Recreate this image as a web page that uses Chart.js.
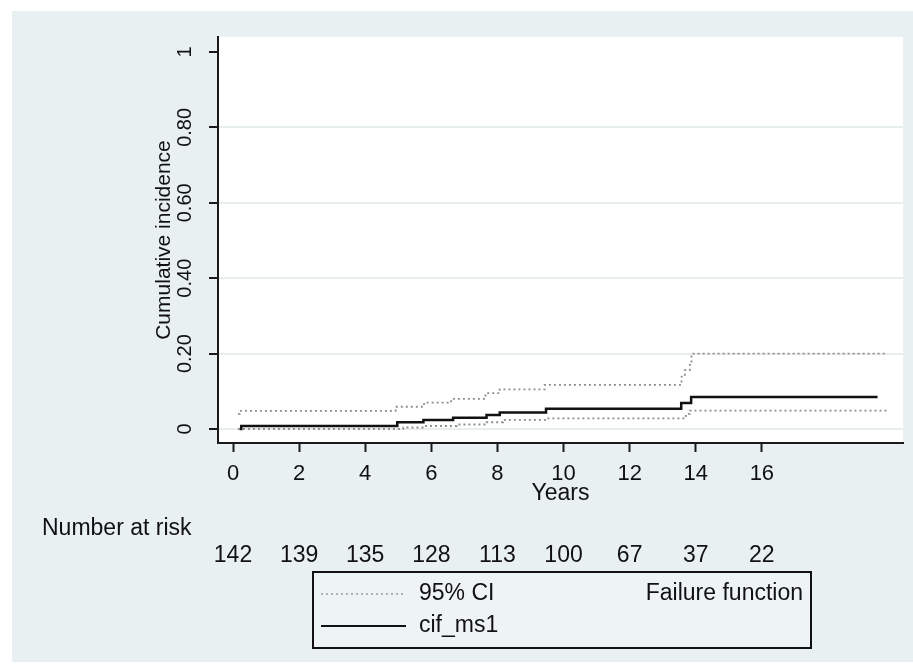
<!DOCTYPE html>
<html>
<head>
<meta charset="utf-8">
<script src="https://cdn.jsdelivr.net/npm/chart.js@4.4.1/dist/chart.umd.min.js"></script>
<style>
	html, body { margin: 0; padding: 0; background: #ffffff; }
	canvas { display: block; }
</style>
</head>
<body>
<canvas id="chart" width="913" height="668"></canvas>
<script>

var yearTicks = [0, 2, 4, 6, 8, 10, 12, 14, 16];
var yTickValues = [0, 0.2, 0.4, 0.6, 0.8, 1];
var yTickLabels = ["0", "0.20", "0.40", "0.60", "0.80", "1"];

// cumulative incidence (cif_ms1), step function: value holds from time on
var cifTimes = [0.2, 0.25, 4.97, 5.76, 6.66, 7.67, 8.07, 9.47, 13.56, 13.86, 19.5];
var cifValues = [0.0, 0.008, 0.018, 0.024, 0.030, 0.037, 0.044, 0.054, 0.069, 0.085, 0.085];

// 95% CI bounds
var upperTimes = [0.15, 0.2, 4.92, 5.78, 6.6, 7.64, 8.07, 9.43, 13.57, 13.67, 13.82, 13.87, 19.8];
var upperValues = [0.040, 0.048, 0.059, 0.070, 0.080, 0.095, 0.105, 0.117, 0.139, 0.156, 0.170, 0.200, 0.200];
var lowerTimes = [0.15, 5.15, 5.8, 6.77, 7.67, 8.17, 9.48, 13.7, 13.82, 19.8];
var lowerValues = [0.0, 0.004, 0.008, 0.012, 0.018, 0.024, 0.028, 0.040, 0.049, 0.049];

var riskTimes = [0, 2, 4, 6, 8, 10, 12, 14, 16];
var riskCounts = [142, 139, 135, 128, 113, 100, 67, 37, 22];

var FONT = "'Liberation Sans', Arial, sans-serif";
var TEXT = "#111111";
var FRAME_BG = "#e9f0f2";

function toPoints(times, values) {
	var points = [];
	for (var i = 0; i < times.length; i++) {
		points.push({ x: times[i], y: values[i] });
	}
	return points;
}

function fixTicks(values) {
	return function(scale) {
		scale.ticks = values.map(function(v) { return { value: v }; });
	};
}

var stataFrame = {
	id: "stataFrame",
	beforeDraw: function(chart) {
		var ctx = chart.ctx;
		var area = chart.chartArea;
		ctx.save();
		ctx.fillStyle = "#ffffff";
		ctx.fillRect(0, 0, chart.width, chart.height);
		ctx.fillStyle = FRAME_BG;
		ctx.fillRect(12, 11, chart.width - 12, 651);
		ctx.fillStyle = "#ffffff";
		ctx.fillRect(area.left, area.top, area.right - area.left, area.bottom - area.top);
		ctx.restore();
	},
	afterDraw: function(chart) {
		var ctx = chart.ctx;
		var x = chart.scales.x;
		ctx.save();
		ctx.fillStyle = TEXT;
		ctx.font = "23px " + FONT;
		ctx.textBaseline = "middle";

		// number at risk table
		ctx.textAlign = "left";
		ctx.fillText("Number at risk", 42, 529);
		ctx.textAlign = "center";
		for (var i = 0; i < riskTimes.length; i++) {
			ctx.fillText(String(riskCounts[i]), x.getPixelForValue(riskTimes[i]), 556);
		}

		// legend box
		ctx.fillStyle = "#eef4f5";
		ctx.fillRect(313, 572, 498, 76);
		ctx.lineWidth = 2;
		ctx.strokeStyle = "#111111";
		ctx.strokeRect(313, 572, 498, 76);

		ctx.beginPath();
		ctx.setLineDash([2, 3]);
		ctx.strokeStyle = "#9a9a9a";
		ctx.lineWidth = 1.5;
		ctx.moveTo(321, 594);
		ctx.lineTo(405, 594);
		ctx.stroke();

		ctx.beginPath();
		ctx.setLineDash([]);
		ctx.strokeStyle = "#111111";
		ctx.lineWidth = 2;
		ctx.moveTo(321, 626);
		ctx.lineTo(406, 626);
		ctx.stroke();

		ctx.fillStyle = TEXT;
		ctx.textAlign = "left";
		ctx.fillText("95% CI", 419, 594);
		ctx.fillText("cif_ms1", 419, 626);
		ctx.textAlign = "right";
		ctx.fillText("Failure function", 803, 594);
		ctx.restore();
	}
};

var ciStyle = {
	borderColor: "#8e8e8e",
	borderWidth: 1.8,
	borderDash: [2, 3],
	pointRadius: 0,
	stepped: true,
	fill: false
};

new Chart(document.getElementById("chart").getContext("2d"), {
	type: "line",
	data: {
		datasets: [
			Object.assign({ label: "95% CI upper", data: toPoints(upperTimes, upperValues) }, ciStyle),
			Object.assign({ label: "95% CI lower", data: toPoints(lowerTimes, lowerValues) }, ciStyle),
			{
				label: "cif_ms1",
				data: toPoints(cifTimes, cifValues),
				borderColor: "#111111",
				borderWidth: 2.5,
				pointRadius: 0,
				stepped: true,
				fill: false
			}
		]
	},
	options: {
		responsive: false,
		animation: false,
		devicePixelRatio: 1,
		layout: { padding: { left: 150, top: 37, right: 10, bottom: 150 } },
		plugins: {
			legend: { display: false },
			tooltip: { enabled: false }
		},
		scales: {
			x: {
				type: "linear",
				min: -0.454,
				max: 20.27,
				afterBuildTicks: fixTicks(yearTicks),
				afterFit: function(scale) { scale.height = 75; },
				border: { display: true, color: "#1a1a1a", width: 2 },
				grid: {
					drawOnChartArea: false,
					drawTicks: true,
					tickLength: 9,
					tickColor: "#1a1a1a",
					tickWidth: 2
				},
				ticks: {
					autoSkip: false,
					maxRotation: 0,
					padding: 9,
					color: TEXT,
					font: { family: FONT, size: 22 },
					callback: function(value) { return String(value); }
				},
				title: {
					display: true,
					text: "Years",
					color: TEXT,
					font: { family: FONT, size: 23 },
					padding: { top: 0, bottom: 11 }
				}
			},
			y: {
				type: "linear",
				min: -0.0371,
				max: 1.0398,
				afterBuildTicks: fixTicks(yTickValues),
				afterFit: function(scale) { scale.width = 68; },
				border: { display: true, color: "#1a1a1a", width: 2 },
				grid: {
					drawOnChartArea: true,
					color: function(c) {
						return c.tick && c.tick.value === 1 ? "rgba(0,0,0,0)" : "#e8eef0";
					},
					lineWidth: 2,
					drawTicks: true,
					tickLength: 9,
					tickColor: "#1a1a1a",
					tickWidth: 2
				},
				ticks: {
					autoSkip: false,
					minRotation: 90,
					maxRotation: 90,
					crossAlign: "center",
					padding: 4,
					color: TEXT,
					font: { family: FONT, size: 20 },
					callback: function(value, index) { return yTickLabels[index]; }
				},
				title: {
					display: true,
					text: "Cumulative incidence",
					color: TEXT,
					font: { family: FONT, size: 21 },
					padding: { top: 2, bottom: 0 }
				}
			}
		}
	},
	plugins: [stataFrame]
});
</script>
</body>
</html>
